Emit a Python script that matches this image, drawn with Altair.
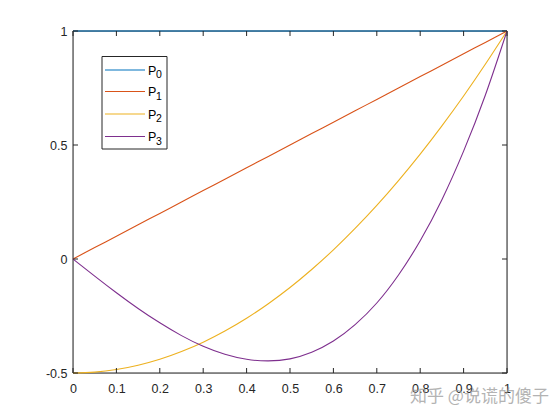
import altair as alt
import pandas as pd

xs = [0, 0.05, 0.1, 0.15, 0.2, 0.25, 0.3, 0.35, 0.4, 0.45, 0.5,
      0.55, 0.6, 0.65, 0.7, 0.75, 0.8, 0.85, 0.9, 0.95, 1]
p0 = [1] * 21
p1 = [0, 0.05, 0.1, 0.15, 0.2, 0.25, 0.3, 0.35, 0.4, 0.45, 0.5,
      0.55, 0.6, 0.65, 0.7, 0.75, 0.8, 0.85, 0.9, 0.95, 1]
p2 = [-0.5, -0.496, -0.485, -0.466, -0.44, -0.406, -0.365, -0.316, -0.26, -0.196, -0.125,
      -0.046, 0.04, 0.134, 0.235, 0.344, 0.46, 0.584, 0.715, 0.854, 1]
p3 = [0, -0.075, -0.148, -0.217, -0.28, -0.336, -0.383, -0.418, -0.44, -0.447, -0.438,
      -0.409, -0.36, -0.288, -0.193, -0.070, 0.08, 0.26, 0.473, 0.718, 1]
names = ["P0", "P1", "P2", "P3"]
subscripts = ["0", "1", "2", "3"]
colors = ["#0072BD", "#D95319", "#EDB120", "#7E2F8E"]
x_ticks = [0, 0.1, 0.2, 0.3, 0.4, 0.5, 0.6, 0.7, 0.8, 0.9, 1]
y_ticks = [-0.5, 0, 0.5, 1]
watermark = "知乎 @说谎的傻子"

W, H = 434, 342

rows = []
for name, ys in zip(names, [p0, p1, p2, p3]):
    for i, (x, y) in enumerate(zip(xs, ys)):
        rows.append({"x": x, "y": y, "s": name, "o": i})
df = pd.DataFrame(rows)

xscale = alt.Scale(domain=[0, 1], nice=False, zero=False)
yscale = alt.Scale(domain=[-0.5, 1], nice=False, zero=False)
FONT = "Liberation Sans"
xaxis = alt.Axis(values=x_ticks, domain=False, ticks=False, grid=False, format="~g",
                 labelFontSize=12.5, labelColor="#262626", labelPadding=9,
                 labelFont=FONT, labelFlush=False)
yaxis = alt.Axis(values=y_ticks, domain=False, ticks=False, grid=False, format="~g",
                 labelFontSize=12.5, labelColor="#262626", labelPadding=6,
                 labelFont=FONT, labelFlush=False,
                 labelExpr="replace(datum.label, '−', '-')")

tk = dict(color="#262626", strokeWidth=1)
frame_df = pd.DataFrame({"k": [0]})
frame = alt.layer(
    alt.Chart(frame_df).mark_rule(**tk).encode(x=alt.value(0), x2=alt.value(W), y=alt.value(H)),
    alt.Chart(frame_df).mark_rule(**tk).encode(x=alt.value(0), y=alt.value(0), y2=alt.value(H)),
    alt.Chart(frame_df).mark_rule(**tk).encode(x=alt.value(W), y=alt.value(0), y2=alt.value(H)),
    alt.Chart(frame_df).mark_rule(**tk).encode(x=alt.value(0), x2=alt.value(W), y=alt.value(0)),
)

lines = alt.Chart(df).mark_line(strokeWidth=1.1, interpolate="natural").encode(
    x=alt.X("x:Q", scale=xscale, title=None, axis=xaxis),
    y=alt.Y("y:Q", scale=yscale, title=None, axis=yaxis),
    color=alt.Color("s:N", scale=alt.Scale(domain=names, range=colors), legend=None),
    order="o:Q",
)

xt = pd.DataFrame({"x": x_ticks})
yt = pd.DataFrame({"y": y_ticks})
xb = alt.Chart(xt).mark_rule(**tk).encode(
    x=alt.X("x:Q", scale=xscale, title=None, axis=xaxis), y=alt.value(H), y2=alt.value(H - 5))
xtop = alt.Chart(xt).mark_rule(**tk).encode(
    x=alt.X("x:Q", scale=xscale, title=None, axis=xaxis), y=alt.value(0), y2=alt.value(5))
yl = alt.Chart(yt).mark_rule(**tk).encode(
    y=alt.Y("y:Q", scale=yscale, title=None, axis=yaxis), x=alt.value(0), x2=alt.value(5))
yr = alt.Chart(yt).mark_rule(**tk).encode(
    y=alt.Y("y:Q", scale=yscale, title=None, axis=yaxis), x=alt.value(W), x2=alt.value(W - 5))

# legend box (manual, MATLAB style with subscripts)
leg = [alt.Chart(frame_df).mark_rect(fill="white", stroke="#262626", strokeWidth=1).encode(
    x=alt.value(29), x2=alt.value(94), y=alt.value(25.5), y2=alt.value(118))]
row_y = [39, 60.5, 83, 105.5]
for sub, col, ry in zip(subscripts, colors, row_y):
    leg.append(alt.Chart(frame_df).mark_rule(color=col, strokeWidth=1.1).encode(
        x=alt.value(32), x2=alt.value(72), y=alt.value(ry)))
    leg.append(alt.Chart(pd.DataFrame({"t": ["P"]})).mark_text(
        font=FONT, fontSize=12.5, color="#000", align="left", baseline="alphabetic").encode(
        text="t:N", x=alt.value(75), y=alt.value(ry + 4.5)))
    leg.append(alt.Chart(pd.DataFrame({"t": [sub]})).mark_text(
        font=FONT, fontSize=10.5, color="#000", align="left", baseline="alphabetic").encode(
        text="t:N", x=alt.value(83), y=alt.value(ry + 8)))

wm = alt.Chart(pd.DataFrame({"t": [watermark]})).mark_text(
    font="Noto Sans CJK SC", fontSize=17, color="#9a9a9a", opacity=0.75,
    align="left", baseline="middle").encode(
    text="t:N", x=alt.value(337), y=alt.value(H + 24))

chart = alt.layer(frame, lines, xb, xtop, yl, yr, *leg, wm).properties(
    width=W, height=H,
    autosize=alt.AutoSizeParams(type="none"),
    padding={"left": 65, "top": 23, "right": 45, "bottom": 47},
).configure_view(stroke=None).configure(background="white")

chart.save("out.html", embed_options={"renderer": "svg", "actions": False})
